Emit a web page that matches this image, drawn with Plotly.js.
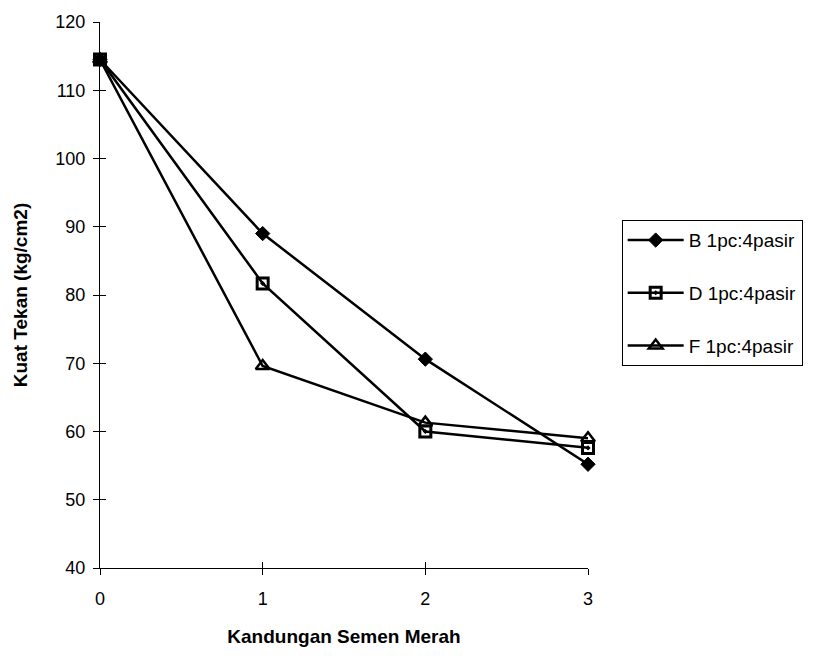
<!DOCTYPE html>
<html>
<head>
<meta charset="utf-8">
<script src="https://cdn.plot.ly/plotly-3.0.1.min.js"></script>
<style>html,body{margin:0;padding:0;background:#fff;}#chart{width:815px;height:658px;}</style>
</head>
<body>
<div id="chart"></div>
<script>
// Data
var kandungan = [0, 1, 2, 3];
var seriesNames = ["B 1pc:4pasir", "D 1pc:4pasir", "F 1pc:4pasir"];
var valuesB = [114.5, 89.0, 70.6, 55.2];
var valuesD = [114.5, 81.7, 60.0, 57.6];
var valuesF = [114.5, 69.6, 61.3, 59.0];
var yTicks = [40, 50, 60, 70, 80, 90, 100, 110, 120];
var xTicks = [0, 1, 2, 3];

var FONT = "Liberation Sans, Arial, sans-serif";

function series(name, vals, symbol, size, lw, group) {
  return {
    x: kandungan, y: vals, name: name, type: "scatter", mode: "lines+markers",
    legendgroup: group,
    line: {color: "#000", width: 2.5},
    marker: {symbol: symbol, size: size, color: "#000",
             line: {color: "#000", width: lw}},
    cliponaxis: false
  };
}

var traces = [
  series(seriesNames[0], valuesB, "diamond", 11, 1, "g1"),
  series(seriesNames[1], valuesD, "square-open-dot", 11, 3, "g2"),
  series(seriesNames[2], valuesF, "triangle-up-open", 12, 2.5, "g3"),
  // invisible trace to carry the overlay axes that draw the inner half of the crossing ticks
  {x: kandungan, y: valuesB, xaxis: "x2", yaxis: "y2", mode: "lines", opacity: 0,
   showlegend: false, hoverinfo: "skip", line: {width: 0}}
];

var layout = {
  width: 815, height: 658,
  margin: {l: 100, r: 222, t: 22, b: 90},
  paper_bgcolor: "#fff", plot_bgcolor: "#fff",
  font: {family: FONT, color: "#000", size: 18},
  showlegend: true,
  xaxis: {
    range: [0, 3], tickvals: xTicks, ticktext: xTicks.map(String),
    showgrid: false, zeroline: false, showline: true, linecolor: "#000", linewidth: 1,
    ticks: "outside", ticklen: 6, tickcolor: "#000", tickwidth: 1,
    ticklabelstandoff: 8,
    tickfont: {family: FONT, size: 18, color: "#000"},
    title: {text: "Kandungan Semen Merah", font: {family: FONT, size: 19, color: "#000", weight: "bold"}, standoff: 22}
  },
  yaxis: {
    range: [40, 120], tickvals: yTicks, ticktext: yTicks.map(String),
    showgrid: false, zeroline: false, showline: true, linecolor: "#000", linewidth: 1,
    ticks: "outside", ticklen: 6, tickcolor: "#000", tickwidth: 1,
    ticklabelstandoff: 4,
    tickfont: {family: FONT, size: 18, color: "#000"},
    title: {text: "Kuat Tekan (kg/cm2)", font: {family: FONT, size: 19, color: "#000", weight: "bold"}, standoff: 22}
  },
  xaxis2: {
    overlaying: "x", anchor: "y2", side: "bottom", range: [0, 3], tickvals: xTicks,
    showticklabels: false, showgrid: false, zeroline: false, showline: false,
    ticks: "inside", ticklen: 6, tickcolor: "#000", tickwidth: 1
  },
  yaxis2: {
    overlaying: "y", anchor: "x2", side: "left", range: [40, 120], tickvals: yTicks,
    showticklabels: false, showgrid: false, zeroline: false, showline: false,
    ticks: "inside", ticklen: 6, tickcolor: "#000", tickwidth: 1
  },
  legend: {
    x: 1.069, xanchor: "left", y: 0.637, yanchor: "top",
    bordercolor: "#000", borderwidth: 1, bgcolor: "#fff",
    font: {family: FONT, size: 19, color: "#000"},
    traceorder: "grouped", tracegroupgap: 25, itemwidth: 56
  }
};

Plotly.newPlot("chart", traces, layout, {displayModeBar: false, staticPlot: true});
</script>
</body>
</html>
